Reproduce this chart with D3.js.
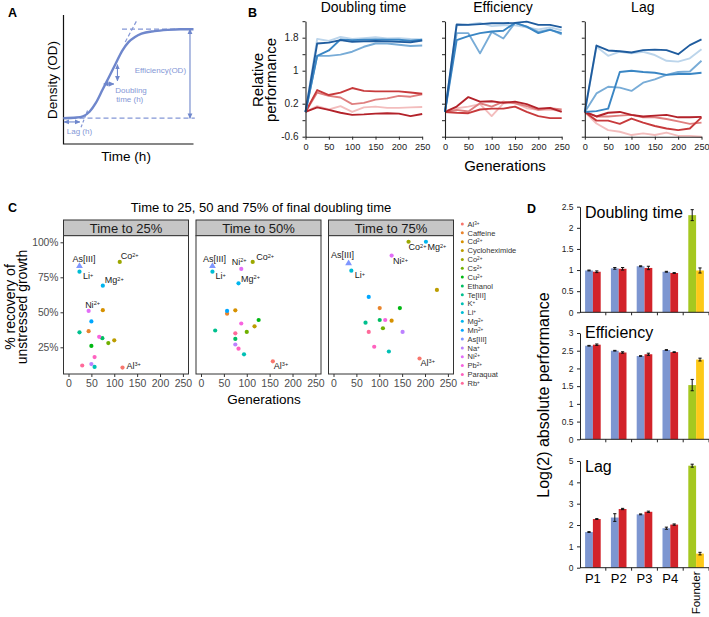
<!DOCTYPE html>
<html><head><meta charset="utf-8">
<script src="https://cdn.jsdelivr.net/npm/d3@7"></script>
<style>
body{margin:0;background:#fff;}
svg{display:block;font-family:"Liberation Sans",Arial,Helvetica,sans-serif;}
</style></head><body>
<svg id="chart" width="709" height="617"></svg>
<script>
// ================= DATA =================
// Panel A: schematic growth curve
const timeA = [0,1,1.5,2,2.5,3,3.5,4,4.5,5,5.5,6,7,8,9,10];
const odA   = [0.2,0.205,0.215,0.25,0.32,0.42,0.52,0.62,0.72,0.79,0.83,0.855,0.875,0.885,0.89,0.89];

// Panel B: relative performance over generations
const generationsB = [0,25,50,75,100,125,150,175,200,225,250];
const metricsB = ["Doubling time","Efficiency","Lag"];
const yTicksB  = [-0.6,-0.2,0.2,0.6,1,1.4,1.8,2.2];
const yLabelsB = ["-0.6","","0.2","","1","","1.8",""];
const xTicksB  = [0,50,100,150,200,250];
const doublingBlue = [
  [0,1.66,1.68,1.74,1.70,1.71,1.72,1.71,1.70,1.69,1.73],
  [0,1.36,1.49,1.76,1.74,1.75,1.76,1.75,1.75,1.73,1.75],
  [0,1.36,1.36,1.39,1.46,1.58,1.66,1.66,1.63,1.60,1.61],
  [0,1.77,1.72,1.82,1.77,1.79,1.81,1.78,1.79,1.77,1.76]];
const doublingRed = [
  [0,0.11,0.05,-0.02,-0.07,-0.06,-0.04,-0.03,-0.04,-0.10,-0.05],
  [0,0.53,0.41,0.47,0.58,0.51,0.50,0.50,0.50,0.47,0.44],
  [0,0.47,0.39,0.35,0.19,0.22,0.30,0.33,0.39,0.37,0.43],
  [0,0.14,0.06,0.14,0.00,0.11,0.13,0.10,0.10,0.11,0.12]];
const efficiencyBlue = [
  [0,2.12,2.11,2.13,2.15,2.15,2.16,2.19,2.11,2.11,2.05],
  [0,1.74,1.84,1.91,1.95,1.97,2.16,2.07,1.91,1.99,1.91],
  [0,1.91,1.91,1.42,1.94,1.78,2.16,2.07,1.94,2.00,1.88],
  [0,2.10,2.12,2.16,2.08,2.10,2.10,2.05,2.00,2.05,1.98]];
const efficiencyRed = [
  [0,0.13,0.36,0.25,0.26,0.22,0.25,0.19,0.08,0.10,0.00],
  [0,-0.02,-0.03,0.06,0.08,0.08,0.13,0.00,-0.10,-0.15,-0.15],
  [0,0.05,0.01,0.21,0.13,0.25,0.21,0.14,0.05,0.09,0.06],
  [0,0.09,0.13,0.19,-0.10,0.21,0.22,0.09,0.05,0.06,0.02]];
const lagBlue = [
  [0,1.61,1.49,1.47,1.44,1.50,1.51,1.50,1.40,1.62,1.76],
  [0,0.02,0.08,0.97,1.00,0.97,0.95,0.90,0.92,0.92,0.95],
  [0,0.45,0.61,0.59,0.51,0.71,0.79,0.90,0.97,0.98,1.24],
  [0,1.58,1.36,1.46,1.42,1.46,1.38,1.24,1.22,1.30,1.52]];
const lagRed = [
  [0,-0.11,-0.02,0.00,-0.07,-0.11,-0.09,-0.07,-0.13,-0.13,-0.12],
  [0,-0.21,-0.21,-0.29,-0.16,-0.26,-0.34,-0.40,-0.44,-0.40,-0.13],
  [0,-0.11,-0.11,-0.09,-0.07,-0.13,-0.13,-0.17,-0.23,-0.29,-0.26],
  [0,-0.28,-0.44,-0.48,-0.56,-0.52,-0.56,-0.50,-0.58,-0.58,-0.60]];

// Panel C: time to 25/50/75% recovery
const stressors = ["Al3+","Caffeine","Cd2+","Cycloheximide","Co2+","Cs2+","Cu2+","Ethanol","Te[III]","K+","Li+","Mg2+","Mn2+","As[III]","Na+","Ni2+","Pb2+","Paraquat","Rb+"];
const facetsC = ["Time to 25%","Time to 50%","Time to 75%"];
const gen25 = [118,44,75,100,112,87,50,74,24,57,24,75,50,24,50,44,67,57,30];
const pct25 = [10.5,36.5,51.5,30,86,28,26,31.5,35.7,11,79,69,43.5,83,13,51,32.5,18,12];
const gen50 = [157,57,75,117,113,100,126,75,31,94,25,82,57,25,75,88,88,82,75];
const pct50 = [15,49,51.4,40,86,36,44.5,31,37,20,79,70.7,51,83,27,81,42,24,35];
const gen75 = [188,101,127,226,164,108,145,101,70,121,39,202,77,33,151,127,113,89,77];
const pct75 = [17,53,44,66,100.4,38.6,53,44.5,42.6,22,79.7,100.4,61,85,36,90.5,44.5,25.4,36];
const labelledC = ["As[III]","Li+","Co2+","Mg2+","Ni2+","Al3+"];
const xTicksC = [0,50,100,150,200,250];
const yTicksC = [25,50,75,100];

// Panel D: log2 absolute performance
const popLabels = ["P1","P2","P3","P4","Founder"];
const dtEvolved = [0.99,1.04,1.09,0.96,2.30];
const dtEvolvedErr = [0.01,0.02,0.01,0.01,0.13];
const dtStressed = [0.96,1.03,1.05,0.93,0.99];
const dtStressedErr = [0.02,0.03,0.04,0.01,0.06];
const effEvolved = [2.64,2.50,2.35,2.52,1.53];
const effEvolvedErr = [0.01,0.01,0.01,0.01,0.16];
const effStressed = [2.67,2.45,2.40,2.46,2.25];
const effStressedErr = [0.02,0.02,0.03,0.01,0.04];
const lagEvolved = [1.67,2.35,2.50,1.85,4.78];
const lagEvolvedErr = [0.02,0.18,0.02,0.05,0.07];
const lagStressed = [2.28,2.75,2.62,2.02,0.66];
const lagStressedErr = [0.02,0.03,0.03,0.03,0.06];
const dTicksDt = [0,0.5,1,1.5,2,2.5];
const dTicksEff = [0,0.5,1,1.5,2,2.5,3];
const dTicksLag = [0,1,2,3,4,5];

// ================= DRAW =================
const svg = d3.select("#chart");

function supText(sel, name) {
  const m = name.match(/^([A-Za-z]+)(\d?[+\-])$/);
  if (m) {
    sel.append("tspan").text(m[1]);
    sel.append("tspan").attr("dy","-0.45em").attr("font-size","0.62em").text(m[2]);
  } else sel.text(name);
}

// panel letters
[["A",8,16.5],["B",248,16.5],["C",8,211.7],["D",527,212.5]].forEach(([t,x,y])=>{
  svg.append("text").attr("x",x).attr("y",y).attr("font-size",12.5).attr("font-weight","bold").attr("fill","#000").text(t);
});

// ---------- Panel A ----------
(function(){
  const g = svg.append("g");
  const xA = d3.scaleLinear().domain([0,10]).range([63.5,193.5]);
  const yA = d3.scaleLinear().domain([0,1]).range([144,15]);
  const c = "#6f87cc", cl = "#8497d6";
  const defs = svg.append("defs");
  defs.append("marker").attr("id","arrA").attr("viewBox","0 0 8 8").attr("refX",7).attr("refY",4)
    .attr("markerWidth",5).attr("markerHeight",5).attr("orient","auto-start-reverse")
    .append("path").attr("d","M0,0.5 L8,4 L0,7.5 z").attr("fill",c);
  g.append("path").attr("d",`M${xA(0)},${yA(1)} V${yA(0)} H${xA(10)}`).attr("fill","none").attr("stroke","#111").attr("stroke-width",1.2);
  const base = odA[0], top = d3.max(odA);
  g.append("line").attr("x1",xA(0)).attr("x2",xA(10.1)).attr("y1",yA(base)).attr("y2",yA(base))
    .attr("stroke",cl).attr("stroke-width",1.3).attr("stroke-dasharray","5,3");
  g.append("line").attr("x1",xA(4.5)).attr("x2",xA(10)).attr("y1",yA(top)).attr("y2",yA(top))
    .attr("stroke",cl).attr("stroke-width",1.3).attr("stroke-dasharray","5,3");
  g.append("line").attr("x1",xA(4.75)).attr("x2",xA(5.65)).attr("y1",yA(0.79)).attr("y2",yA(0.96))
    .attr("stroke",cl).attr("stroke-width",1.2).attr("stroke-dasharray","4,2.5");
  g.append("line").attr("x1",xA(1.35)).attr("x2",xA(1.85)).attr("y1",yA(0.13)).attr("y2",yA(0.26))
    .attr("stroke",cl).attr("stroke-width",1.2).attr("stroke-dasharray","3,2");
  const line = d3.line().x((d,i)=>xA(timeA[i])).y(d=>yA(d)).curve(d3.curveMonotoneX);
  g.append("path").attr("d",line(odA)).attr("fill","none").attr("stroke",c).attr("stroke-width",2.4);
  const arrow = (x1,y1,x2,y2)=>g.append("line").attr("x1",xA(x1)).attr("y1",yA(y1)).attr("x2",xA(x2)).attr("y2",yA(y2))
    .attr("stroke",c).attr("stroke-width",1.1).attr("marker-start","url(#arrA)").attr("marker-end","url(#arrA)");
  arrow(9.73,top,9.73,base);
  arrow(4.15,0.615,4.15,0.49);
  arrow(3.1,0.465,3.87,0.465);
  arrow(0.05,0.171,1.25,0.171);
  const t = (x,y,s,anchor)=>g.append("text").attr("x",xA(x)).attr("y",yA(y)).attr("font-size",8).attr("fill",cl).attr("text-anchor",anchor||"start").text(s);
  t(7.45,0.55,"Efficiency(OD)","middle");
  t(3.98,0.395,"Doubling");
  t(4.05,0.322,"time (h)");
  t(0.25,0.081,"Lag (h)");
  g.append("text").attr("x",126).attr("y",160.5).attr("font-size",13.5).attr("text-anchor","middle").text("Time (h)");
  g.append("text").attr("transform","translate(56.5,80) rotate(-90)").attr("font-size",13.5).attr("text-anchor","middle").text("Density (OD)");
})();

// ---------- Panel B ----------
(function(){
  const g = svg.append("g");
  const lefts = [305.5,445,584.8];
  const yB = d3.scaleLinear().domain([-0.6,2.2]).range([136.7,21.2]);
  const blues = ["#1f5c9e","#3a86c4","#78acd7","#bcd5eb"];
  const reds  = ["#b3222a","#c73a3c","#df7f7f","#f3bdbd"];
  const sets = [[doublingBlue,doublingRed],[efficiencyBlue,efficiencyRed],[lagBlue,lagRed]];
  sets.forEach(([bl,rd],k)=>{
    const xB = d3.scaleLinear().domain([0,250]).range([lefts[k],lefts[k]+116.7]);
    const gg = g.append("g");
    const line = d3.line().x((d,i)=>xB(generationsB[i])).y(d=>yB(d));
    [3,2,1,0].forEach(i=>{
      gg.append("path").attr("d",line(rd[i])).attr("fill","none").attr("stroke",reds[i]).attr("stroke-width",1.9).attr("stroke-linejoin","round");
    });
    [3,2,1,0].forEach(i=>{
      gg.append("path").attr("d",line(bl[i])).attr("fill","none").attr("stroke",blues[i]).attr("stroke-width",1.9).attr("stroke-linejoin","round");
    });
    const ay = gg.append("g").attr("transform",`translate(${lefts[k]},0)`)
      .call(d3.axisLeft(yB).tickValues(yTicksB).tickSize(3).tickSizeOuter(0).tickPadding(4)
        .tickFormat((d,i)=> k===0 ? yLabelsB[i] : ""));
    const ax = gg.append("g").attr("transform",`translate(0,${yB(-0.6)})`)
      .call(d3.axisBottom(xB).tickValues(xTicksB).tickSize(3).tickSizeOuter(0).tickPadding(4));
    [ay,ax].forEach(a=>{
      a.select(".domain").attr("stroke","#222").attr("stroke-width",1.1);
      a.selectAll(".tick line").attr("stroke","#222");
      a.selectAll("text").attr("font-family","inherit").attr("fill","#222");
    });
    ay.selectAll("text").attr("font-size",10);
    ax.selectAll("text").attr("font-size",9.2);
    g.append("text").attr("x",lefts[k]+58).attr("y",12).attr("font-size",14).attr("text-anchor","middle").text(metricsB[k]);
  });
  g.append("text").attr("x",505).attr("y",171).attr("font-size",15).attr("text-anchor","middle").text("Generations");
  g.append("text").attr("transform","translate(262.5,80) rotate(-90)").attr("font-size",15).attr("text-anchor","middle").text("Relative");
  g.append("text").attr("transform","translate(275.5,80) rotate(-90)").attr("font-size",15).attr("text-anchor","middle").text("performance");
})();

// ---------- Panel C ----------
function hueColor(h){ // ggplot2 hue palette (polar LUV, c=100, l=65)
  const l=65, c=100, hr=h*Math.PI/180;
  const U=c*Math.cos(hr), V=c*Math.sin(hr);
  const Xn=95.047,Yn=100,Zn=108.883, den=Xn+15*Yn+3*Zn;
  const un=4*Xn/den, vn=9*Yn/den;
  const Y=Yn*Math.pow((l+16)/116,3);
  const up=U/(13*l)+un, vp=V/(13*l)+vn;
  const X=9*Y*up/(4*vp), Z=-X/3-5*Y+3*Y/vp;
  const x=X/100,y=Y/100,z=Z/100;
  const lin=[3.240479*x-1.537150*y-0.498535*z, -0.969256*x+1.875992*y+0.041556*z, 0.055648*x-0.204043*y+1.057311*z];
  const gm=v=>{v=v<=0.0031308?12.92*v:1.055*Math.pow(v,1/2.4)-0.055;return Math.round(Math.max(0,Math.min(1,v))*255);};
  return d3.rgb(gm(lin[0]),gm(lin[1]),gm(lin[2])).formatHex();
}
(function(){
  const g = svg.append("g");
  const n = stressors.length;
  const color = d3.scaleOrdinal().domain(stressors).range(stressors.map((s,i)=>hueColor(15+360*i/n)));
  const lefts = [63.5,196,328.5], pw = 125, stripTop = 220, panelTop = 235.7, panelBot = 374;
  const yC = d3.scaleLinear().domain([25,100]).range([347.3,242.3]);
  const data = [[gen25,pct25],[gen50,pct50],[gen75,pct75]];
  const labelOffsets = [
    {"As[III]":[-7,-4.5],"Li+":[3.5,7.5],"Co2+":[1,-2.5],"Mg2+":[2,-2.5],"Ni2+":[-3.5,-3],"Al3+":[4,1]},
    {"As[III]":[-9.5,-4.5],"Li+":[3,7.5],"Co2+":[3.5,-1.5],"Mg2+":[2.5,-1.5],"Ni2+":[-9.5,-4],"Al3+":[1,7.5]},
    {"As[III]":[-17.5,-5],"Li+":[3.5,7.5],"Co2+":[0,8.5],"Mg2+":[1.5,8.5],"Ni2+":[1.5,8.5],"Al3+":[1,7.5]}];
  g.append("text").attr("x",261).attr("y",211.7).attr("font-size",13).attr("text-anchor","middle").text("Time to 25, 50 and 75% of final doubling time");
  facetsC.forEach((f,k)=>{
    const L = lefts[k];
    const xC = d3.scaleLinear().domain([0,250]).range([L+5,L+119.4]);
    g.append("rect").attr("x",L).attr("y",stripTop).attr("width",pw).attr("height",panelTop-stripTop)
      .attr("fill","#c6c6c6").attr("stroke","#333").attr("stroke-width",1);
    g.append("text").attr("x",L+pw/2).attr("y",232.5).attr("font-size",13).attr("text-anchor","middle").attr("fill","#1a1a1a").text(f);
    g.append("rect").attr("x",L).attr("y",panelTop).attr("width",pw).attr("height",panelBot-panelTop)
      .attr("fill","#fff").attr("stroke","#333").attr("stroke-width",1);
    const ax = g.append("g").attr("transform",`translate(0,${panelBot})`)
      .call(d3.axisBottom(xC).tickValues(xTicksC).tickSize(3).tickSizeOuter(0).tickPadding(2.5));
    ax.select(".domain").remove();
    ax.selectAll(".tick line").attr("stroke","#333");
    ax.selectAll("text").attr("font-family","inherit").attr("font-size",10.5).attr("fill","#4d4d4d");
    if (k===0){
      const ay = g.append("g").attr("transform",`translate(${L},0)`)
        .call(d3.axisLeft(yC).tickValues(yTicksC).tickSize(3).tickSizeOuter(0).tickPadding(2).tickFormat(d=>d+"%"));
      ay.select(".domain").remove();
      ay.selectAll(".tick line").attr("stroke","#333");
      ay.selectAll("text").attr("font-family","inherit").attr("font-size",10.3).attr("fill","#4d4d4d");
    }
    const [gx,py] = data[k];
    const pts = g.append("g");
    stressors.forEach((s,i)=>{
      const cx = xC(gx[i]), cy = yC(py[i]);
      if (s==="As[III]") {
        pts.append("path").attr("d",d3.symbol(d3.symbolTriangle).size(20)()).attr("transform",`translate(${cx},${cy})`).attr("fill",color(s));
      } else {
        pts.append("circle").attr("cx",cx).attr("cy",cy).attr("r",2.1).attr("fill",color(s));
      }
      if (labelledC.includes(s)) {
        const o = labelOffsets[k][s];
        const t = pts.append("text").attr("x",cx+o[0]).attr("y",cy+o[1]).attr("font-size",9).attr("fill","#1a1a1a");
        supText(t,s);
      }
    });
  });
  g.append("text").attr("x",264).attr("y",403.5).attr("font-size",13.5).attr("text-anchor","middle").text("Generations");
  g.append("text").attr("transform","translate(14.5,307) rotate(-90)").attr("font-size",14).attr("text-anchor","middle").text("% recovery of");
  g.append("text").attr("transform","translate(27,307) rotate(-90)").attr("font-size",14).attr("text-anchor","middle").text("unstressed growth");
  // legend
  const lg = g.append("g");
  stressors.forEach((s,i)=>{
    const y = 224 + i*8.85;
    lg.append("circle").attr("cx",462.3).attr("cy",y).attr("r",1.5).attr("fill",color(s));
    const t = lg.append("text").attr("x",467.5).attr("y",y+2.7).attr("font-size",7.5).attr("fill","#333");
    supText(t,s);
  });
})();

// ---------- Panel D ----------
(function(){
  const g = svg.append("g");
  const xG = d3.scaleBand().domain(popLabels).range([580,709]);
  const bw = 15.6;
  const xS = d3.scaleBand().domain(["evolved","stressed"]).range([(xG.bandwidth()-bw)/2,(xG.bandwidth()+bw)/2]);
  const colEvolved = popLabels.map(p=> p==="Founder" ? "#a5c820" : "#7d96d1");
  const colStressed = popLabels.map(p=> p==="Founder" ? "#fdc918" : "#d2232a");
  const subs = [
    {title:"Doubling time", ev:dtEvolved, evE:dtEvolvedErr, st:dtStressed, stE:dtStressedErr, ticks:dTicksDt, y0:312.3, y1:206.7, ty:217.5},
    {title:"Efficiency", ev:effEvolved, evE:effEvolvedErr, st:effStressed, stE:effStressedErr, ticks:dTicksEff, y0:439.3, y1:333, ty:337.5},
    {title:"Lag", ev:lagEvolved, evE:lagEvolvedErr, st:lagStressed, stE:lagStressedErr, ticks:dTicksLag, y0:567.7, y1:461, ty:471.5}];
  subs.forEach(sp=>{
    const y = d3.scaleLinear().domain([0,d3.max(sp.ticks)]).range([sp.y0,sp.y1]);
    const gg = g.append("g");
    [["evolved",sp.ev,sp.evE,colEvolved],["stressed",sp.st,sp.stE,colStressed]].forEach(([key,vals,errs,cols])=>{
      popLabels.forEach((p,i)=>{
        const x = xG(p)+xS(key);
        gg.append("rect").attr("x",x).attr("y",y(vals[i])).attr("width",xS.bandwidth()).attr("height",y(0)-y(vals[i])).attr("fill",cols[i]);
        const cx = x + xS.bandwidth()/2;
        gg.append("path").attr("d",`M${cx-1.6},${y(vals[i]+errs[i])}H${cx+1.6}M${cx},${y(vals[i]+errs[i])}V${y(vals[i]-errs[i])}M${cx-1.6},${y(vals[i]-errs[i])}H${cx+1.6}`)
          .attr("stroke","#111").attr("stroke-width",1).attr("fill","none");
      });
    });
    const ay = gg.append("g").attr("transform","translate(580,0)")
      .call(d3.axisLeft(y).tickValues(sp.ticks).tickSize(3).tickSizeOuter(0).tickPadding(3.5).tickFormat(d=>String(d)));
    ay.select(".domain").attr("stroke","#222");
    ay.selectAll(".tick line").attr("stroke","#222");
    ay.selectAll("text").attr("font-family","inherit").attr("font-size",8.5).attr("fill","#222");
    gg.append("line").attr("x1",580).attr("x2",709).attr("y1",sp.y0).attr("y2",sp.y0).attr("stroke","#222").attr("stroke-width",1);
    popLabels.forEach(p=>{
      gg.append("line").attr("x1",xG(p)+xG.bandwidth()).attr("x2",xG(p)+xG.bandwidth()).attr("y1",sp.y0).attr("y2",sp.y0+3).attr("stroke","#222");
    });
    gg.append("text").attr("x",585).attr("y",sp.ty).attr("font-size",16).text(sp.title);
  });
  popLabels.forEach(p=>{
    const cx = xG(p)+xG.bandwidth()/2;
    if (p==="Founder") {
      g.append("text").attr("transform",`translate(${cx+4.3},571.5) rotate(-90)`).attr("font-size",11.5).attr("text-anchor","end").text(p);
    } else {
      g.append("text").attr("x",cx).attr("y",583).attr("font-size",13).attr("text-anchor","middle").text(p);
    }
  });
  g.append("text").attr("transform","translate(549,395) rotate(-90)").attr("font-size",16).attr("text-anchor","middle").text("Log(2) absolute performance");
})();
</script>
</body></html>
